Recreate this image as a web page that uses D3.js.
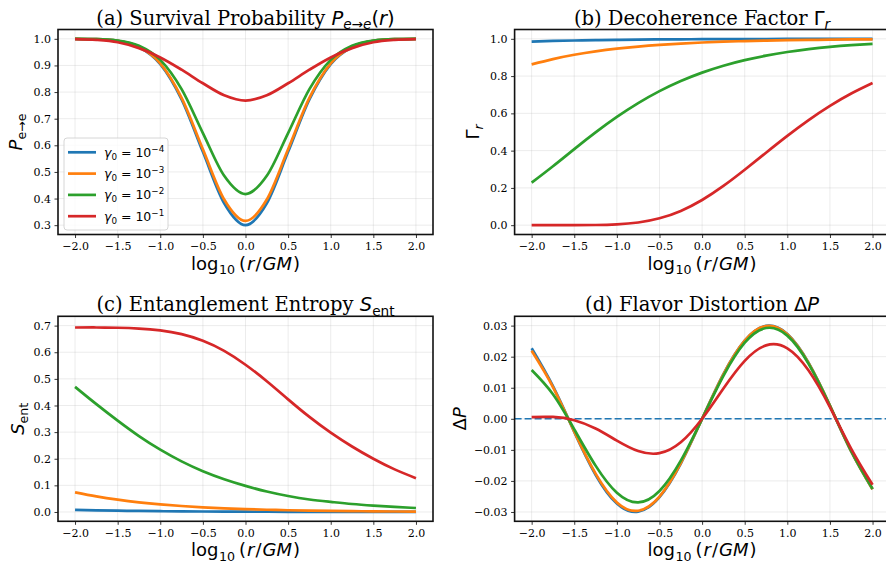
<!DOCTYPE html>
<html>
<head>
<meta charset="utf-8">
<title>Neutrino decoherence panels</title>
<script src="https://d3js.org/d3.v7.min.js"></script>
<style>
  body { margin: 0; background: #fff; }
  svg { display: block; }
  text { white-space: pre; }
  .tick text { font-family: "DejaVu Serif", serif; font-size: 11px; fill: #000; }
</style>
</head>
<body>
<script>
// sample positions, log10(r/GM)
var logR = [-2, -1.75, -1.5, -1.25, -1, -0.75, -0.5, -0.25, 0, 0.25, 0.5, 0.75, 1, 1.25, 1.5, 1.75, 2];

var gammaExp = ["\u22124", "\u22123", "\u22122", "\u22121"];
var colors = ["#1f77b4", "#ff7f0e", "#2ca02c", "#d62728"];

// (a) survival probability
var survBlue   = [0.9998, 0.9985, 0.9922, 0.9693, 0.9053, 0.7727, 0.5754, 0.3822, 0.300, 0.3822, 0.5754, 0.7727, 0.9053, 0.9693, 0.9922, 0.9985, 0.9998];
var survOrange = [0.9998, 0.9985, 0.9924, 0.9700, 0.9075, 0.7779, 0.5851, 0.3964, 0.316, 0.3964, 0.5851, 0.7779, 0.9075, 0.9700, 0.9924, 0.9985, 0.9998];
var survGreen  = [0.9998, 0.9987, 0.9935, 0.974, 0.921, 0.811, 0.646, 0.4855, 0.417, 0.4855, 0.646, 0.811, 0.921, 0.974, 0.9935, 0.9987, 0.9998];
var survRed    = [0.999, 0.996, 0.987, 0.965, 0.930, 0.884, 0.833, 0.788, 0.768, 0.788, 0.833, 0.884, 0.930, 0.965, 0.987, 0.996, 0.999];

// (b) decoherence factor
var decBlue   = [0.9853, 0.9886, 0.9911, 0.9930, 0.9946, 0.9958, 0.9967, 0.9974, 0.9980, 0.9984, 0.9988, 0.9991, 0.9993, 0.9994, 0.9996, 0.9997, 0.9997];
var decOrange = [0.8626, 0.8913, 0.9143, 0.9326, 0.9471, 0.9586, 0.9676, 0.9747, 0.9802, 0.9845, 0.9879, 0.9906, 0.9927, 0.9943, 0.9955, 0.9965, 0.9973];
var decGreen  = [0.2281, 0.3163, 0.4081, 0.4976, 0.5806, 0.6548, 0.7191, 0.7735, 0.8187, 0.8558, 0.8858, 0.9098, 0.9291, 0.9443, 0.9564, 0.9658, 0.9733];
var decRed    = [0.0000, 0.0000, 0.0001, 0.0009, 0.0044, 0.0145, 0.0370, 0.0767, 0.1353, 0.2106, 0.2973, 0.3888, 0.4791, 0.5638, 0.6400, 0.7064, 0.7628];

// (c) entanglement entropy
var entBlue   = [0.0080, 0.0062, 0.0048, 0.0038, 0.0029, 0.0023, 0.0018, 0.0014, 0.0011, 0.0008, 0.0007, 0.0005, 0.0004, 0.0003, 0.0002, 0.0002, 0.0001];
var entOrange = [0.074, 0.0587, 0.0463, 0.0364, 0.0286, 0.0224, 0.0175, 0.0137, 0.0107, 0.0084, 0.0065, 0.0051, 0.0040, 0.0031, 0.0024, 0.0019, 0.0015];
var entGreen  = [0.470, 0.405, 0.343, 0.285, 0.234, 0.190, 0.153, 0.123, 0.098, 0.077, 0.060, 0.047, 0.038, 0.030, 0.024, 0.019, 0.015];
var entRed    = [0.693, 0.693, 0.692, 0.689, 0.682, 0.668, 0.643, 0.605, 0.553, 0.491, 0.423, 0.357, 0.298, 0.246, 0.200, 0.160, 0.127];

// (d) flavor distortion
var distBlue   = [0.0227, 0.0105, -0.0042, -0.0180, -0.0273, -0.0299, -0.0252, -0.0144, 0, 0.0144, 0.0252, 0.0299, 0.0273, 0.0180, 0.0042, -0.0105, -0.0227];
var distOrange = [0.02188, 0.01023, -0.00414, -0.01764, -0.02691, -0.02961, -0.02504, -0.01429, 0, 0.01433, 0.02517, 0.02985, 0.02723, 0.01793, 0.00423, -0.01051, -0.02269];
var distGreen  = [0.01569, 0.00789, -0.00338, -0.01508, -0.02381, -0.02692, -0.02325, -0.01349, 0, 0.01383, 0.02449, 0.02922, 0.02678, 0.01770, 0.00419, -0.01043, -0.02255];
var distRed    = [0.00056, 0.00059, -0.00045, -0.00313, -0.00701, -0.01038, -0.01107, -0.00757, 0, 0.00974, 0.01864, 0.02363, 0.02270, 0.01556, 0.00379, -0.00965, -0.02122];

var xTicks  = [-2, -1.5, -1, -0.5, 0, 0.5, 1, 1.5, 2];
var yTicksA = [0.3, 0.4, 0.5, 0.6, 0.7, 0.8, 0.9, 1.0];
var yTicksB = [0, 0.2, 0.4, 0.6, 0.8, 1.0];
var yTicksC = [0, 0.1, 0.2, 0.3, 0.4, 0.5, 0.6, 0.7];
var yTicksD = [-0.03, -0.02, -0.01, 0, 0.01, 0.02, 0.03];

var W = 886, H = 563;
var svg = d3.select("body").append("svg").attr("width", W).attr("height", H);

var SERIF = "'DejaVu Serif', serif", SANS = "'DejaVu Sans', sans-serif";

// write mathtext-ish runs into a <text>
function mt(sel, parts, size) {
  var shift = 0;
  parts.forEach(function(p) {
    var s = p[1] || {};
    var target = s.sub ? size * 0.24 : (s.sup ? -size * 0.4 : 0);
    sel.append("tspan")
      .attr("dy", target - shift)
      .attr("dx", s.gap || 0)
      .style("font-family", s.serif ? SERIF : SANS)
      .style("font-style", s.it ? "italic" : "normal")
      .style("font-size", ((s.sub || s.sup) ? size * 0.7 : size) + "px")
      .text(p[0]);
    shift = target;
  });
}

var xLabel = [["log"], ["10", {sub: true, gap: 0.5}], ["(", {gap: 4}], ["r", {it: true, gap: 1}], ["/", {gap: 1}], ["GM", {it: true, gap: 1}], [")", {gap: 1}]];

function panel(p) {
  var x = d3.scaleLinear().domain([-2.2, 2.2]).range([p.left, p.left + p.w]);
  var y = d3.scaleLinear().domain(p.yDomain).range([p.top + p.h, p.top]);
  var g = svg.append("g");

  // grid
  g.selectAll(".gx").data(xTicks).enter().append("line")
    .attr("x1", d => x(d)).attr("x2", d => x(d))
    .attr("y1", p.top).attr("y2", p.top + p.h)
    .attr("stroke", "#b0b0b0").attr("stroke-opacity", 0.3).attr("stroke-width", 0.8);
  g.selectAll(".gy").data(p.yTicks).enter().append("line")
    .attr("x1", p.left).attr("x2", p.left + p.w)
    .attr("y1", d => y(d)).attr("y2", d => y(d))
    .attr("stroke", "#b0b0b0").attr("stroke-opacity", 0.3).attr("stroke-width", 0.8);

  if (p.zeroLine) {
    g.append("line")
      .attr("x1", p.left).attr("x2", p.left + p.w)
      .attr("y1", y(0)).attr("y2", y(0))
      .attr("stroke", "#1f77b4").attr("stroke-width", 1.6)
      .attr("stroke-dasharray", "7,3");
  }

  var line = d3.line().x((d, i) => x(logR[i])).y(d => y(d)).curve(p.curve);
  p.series.forEach(function(s, k) {
    g.append("path").attr("d", line(s))
      .attr("fill", "none").attr("stroke", colors[k])
      .attr("stroke-width", 2.7).attr("stroke-linejoin", "round");
  });

  // axes
  var ax = g.append("g").attr("transform", "translate(0," + (p.top + p.h) + ")")
    .call(d3.axisBottom(x).tickValues(xTicks).tickFormat(d3.format(".1f")).tickSize(3.5).tickPadding(4));
  ax.select(".domain").remove();
  var ay = g.append("g").attr("transform", "translate(" + p.left + ",0)")
    .call(d3.axisLeft(y).tickValues(p.yTicks).tickFormat(d3.format(p.yFmt)).tickSize(3.5).tickPadding(3.5));
  ay.select(".domain").remove();
  g.selectAll(".tick line").attr("stroke", "#000").attr("stroke-width", 0.8);

  // frame
  g.append("rect").attr("x", p.left).attr("y", p.top).attr("width", p.w).attr("height", p.h)
    .attr("fill", "none").attr("stroke", "#111").attr("stroke-width", 1.6);

  // title
  var t = g.append("text").attr("x", p.left + p.w / 2).attr("y", p.top - 5)
    .attr("text-anchor", "middle").attr("fill", "#000");
  mt(t, p.title, 19.5);

  // x label
  var xl = g.append("text").attr("x", p.left + p.w / 2).attr("y", p.top + p.h + 35)
    .attr("text-anchor", "middle").attr("fill", "#000");
  mt(xl, xLabel, 18);

  // y label
  var yl = g.append("text")
    .attr("transform", "translate(" + p.ylabX + "," + (p.top + p.h / 2) + ") rotate(-90)")
    .attr("text-anchor", "middle").attr("fill", "#000");
  mt(yl, p.ylab, 18);
}

var rowTop = [29.5, 316.3], colLeft = [58, 514.6], pw = 375, ph = 205;

panel({
  left: colLeft[0], top: rowTop[0], w: pw, h: ph,
  yDomain: [0.265, 1.035], yTicks: yTicksA, yFmt: ".1f",
  series: [survBlue, survOrange, survGreen, survRed], curve: d3.curveMonotoneX,
  title: [["(a) Survival Probability ", {serif: true}], ["P", {it: true}], ["e\u2192e", {sub: true, it: true}], ["("], ["r", {it: true}], [")"]],
  ylab: [["P", {it: true}], ["e\u2192e", {sub: true}]], ylabX: 22
});

panel({
  left: colLeft[1], top: rowTop[0], w: pw, h: ph,
  yDomain: [-0.05, 1.05], yTicks: yTicksB, yFmt: ".1f",
  series: [decBlue, decOrange, decGreen, decRed], curve: d3.curveNatural,
  title: [["(b) Decoherence Factor ", {serif: true}], ["\u0393"], ["r", {sub: true, it: true}]],
  ylab: [["\u0393"], ["r", {sub: true, it: true}]], ylabX: 479
});

panel({
  left: colLeft[0], top: rowTop[1], w: pw, h: ph,
  yDomain: [-0.035, 0.735], yTicks: yTicksC, yFmt: ".1f",
  series: [entBlue, entOrange, entGreen, entRed], curve: d3.curveNatural,
  title: [["(c) Entanglement Entropy ", {serif: true}], ["S", {it: true}], ["ent", {sub: true}]],
  ylab: [["S", {it: true}], ["ent", {sub: true}]], ylabX: 24
});

panel({
  left: colLeft[1], top: rowTop[1], w: pw, h: ph,
  yDomain: [-0.033, 0.033], yTicks: yTicksD, yFmt: ".2f", zeroLine: true,
  series: [distBlue, distOrange, distGreen, distRed], curve: d3.curveNatural,
  title: [["(d) Flavor Distortion ", {serif: true}], ["\u0394"], ["P", {it: true}]],
  ylab: [["\u0394"], ["P", {it: true}]], ylabX: 466
});

// legend in panel (a)
var lg = svg.append("g");
lg.append("rect").attr("x", 64).attr("y", 138).attr("width", 104).attr("height", 92).attr("rx", 3)
  .attr("fill", "#fff").attr("fill-opacity", 0.8).attr("stroke", "#cccccc").attr("stroke-width", 0.8);
gammaExp.forEach(function(e, k) {
  var yy = 152.3 + k * 21.3;
  lg.append("line").attr("x1", 68).attr("x2", 96).attr("y1", yy).attr("y2", yy)
    .attr("stroke", colors[k]).attr("stroke-width", 2.7);
  var t = lg.append("text").attr("x", 104).attr("y", yy + 4.5).attr("fill", "#000");
  mt(t, [["\u03b3", {it: true}], ["0", {sub: true}], [" = 10"], [e, {sup: true}]], 12.5);
});
</script>
</body>
</html>
